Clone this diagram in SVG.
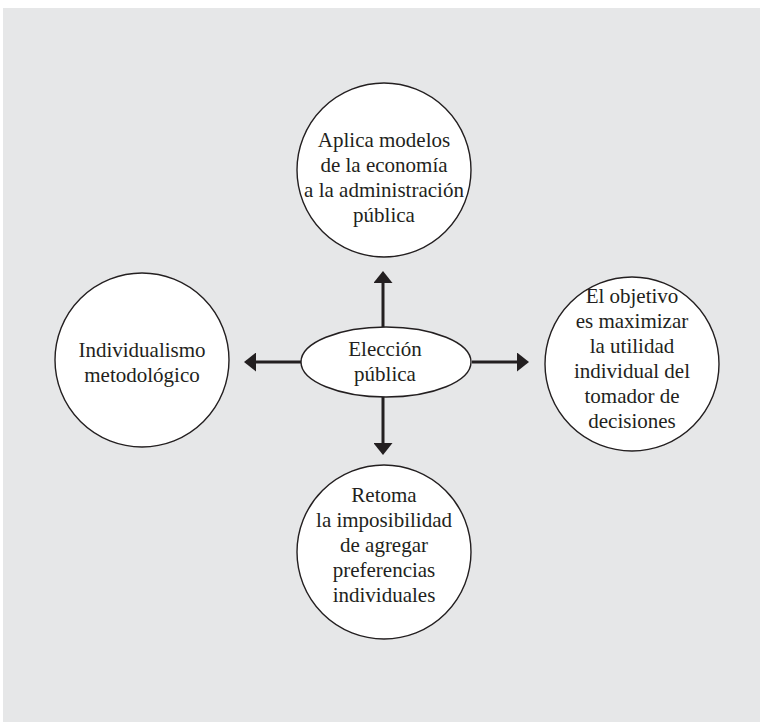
<svg xmlns="http://www.w3.org/2000/svg" width="760" height="725" viewBox="0 0 760 725">
  <style>
    .node { fill: #ffffff; stroke: #231f20; stroke-width: 1.4; }
    .label { font-family: "Liberation Serif", "DejaVu Serif", serif; font-size: 21px; fill: #231f20; text-anchor: middle; }
    .link { stroke: #231f20; stroke-width: 3; fill: none; marker-end: url(#head); }
  </style>
  <defs>
    <marker id="head" markerUnits="userSpaceOnUse" viewBox="0 -9.5 12 19" refX="0" refY="0" markerWidth="12" markerHeight="19" orient="auto">
      <path d="M0,-9.5 L12,0 L0,9.5 Z" fill="#231f20"/>
    </marker>
  </defs>

  <!-- panel -->
  <rect x="3" y="8" width="757" height="714" fill="#e6e7e8"/>

  <!-- connectors from the centre -->
  <g id="connectors">
    <line class="link" x1="383" y1="327" x2="383" y2="283"/>
    <line class="link" x1="302" y1="362" x2="256" y2="362"/>
    <line class="link" x1="472" y1="362" x2="517" y2="362"/>
    <line class="link" x1="383" y1="397" x2="383" y2="443"/>
  </g>

  <g id="centre">
    <ellipse class="node" cx="386" cy="362" rx="85" ry="35"/>
    <text class="label" x="385" y="356">Elección</text>
    <text class="label" x="385" y="381">pública</text>
  </g>

  <g id="top">
    <circle class="node" cx="384" cy="170" r="87"/>
    <text class="label" x="384" y="147">Aplica modelos</text>
    <text class="label" x="384" y="172">de la economía</text>
    <text class="label" x="384" y="197">a la administración</text>
    <text class="label" x="384" y="222">pública</text>
  </g>

  <g id="left">
    <circle class="node" cx="142" cy="360" r="87"/>
    <text class="label" x="142" y="357">Individualismo</text>
    <text class="label" x="142" y="382">metodológico</text>
  </g>

  <g id="right">
    <circle class="node" cx="632" cy="364" r="87"/>
    <text class="label" x="632" y="303">El objetivo</text>
    <text class="label" x="632" y="328">es maximizar</text>
    <text class="label" x="632" y="353">la utilidad</text>
    <text class="label" x="632" y="378">individual del</text>
    <text class="label" x="632" y="403">tomador de</text>
    <text class="label" x="632" y="428">decisiones</text>
  </g>

  <g id="bottom">
    <circle class="node" cx="384" cy="552" r="87"/>
    <text class="label" x="384" y="502">Retoma</text>
    <text class="label" x="384" y="527">la imposibilidad</text>
    <text class="label" x="384" y="552">de agregar</text>
    <text class="label" x="384" y="577">preferencias</text>
    <text class="label" x="384" y="602">individuales</text>
  </g>
</svg>
